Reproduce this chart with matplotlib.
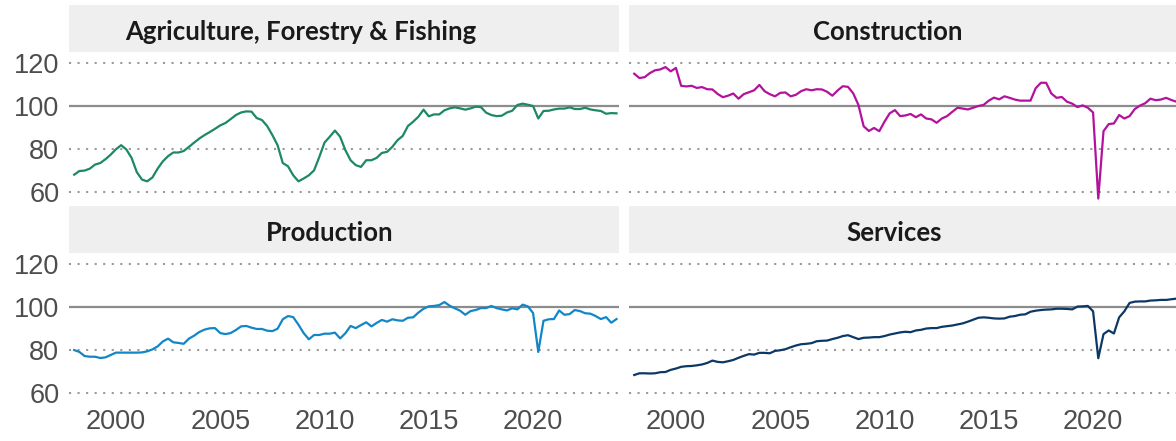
import numpy as np
import matplotlib
matplotlib.use("Agg")
import matplotlib.pyplot as plt

# quarterly index, 1998 Q1 .. 2024 Q1
start_year = 1998

agriculture = [
    68.1, 69.8, 70.0, 70.9, 72.8, 73.5, 75.3, 77.4, 79.9, 81.8,
    79.8, 75.9, 69.3, 65.8, 65.0, 66.8, 70.9, 74.3, 76.7, 78.4,
    78.4, 79.1, 81.0, 83.0, 84.9, 86.5, 87.9, 89.4, 91.0, 92.1,
    93.9, 95.8, 97.0, 97.5, 97.4, 94.4, 93.5, 90.7, 86.5, 81.8,
    73.5, 72.0, 67.8, 65.0, 66.3, 67.8, 70.1, 76.3, 83.0, 85.7,
    88.6, 85.7, 79.5, 74.8, 72.5, 71.7, 74.8, 74.8, 75.9, 78.2,
    78.7, 81.0, 84.1, 86.1, 90.7, 92.7, 95.0, 98.3, 95.2, 96.1,
    96.1, 98.0, 98.9, 99.4, 98.9, 98.3, 98.9, 99.7, 99.5, 96.9,
    95.8, 95.3, 95.5, 97.0, 97.8, 100.5, 101.1, 100.6, 100.0, 94.2,
    97.7, 97.8, 98.4, 98.8, 98.8, 99.4, 98.6, 98.6, 99.2, 98.4,
    98.0, 97.7, 96.4, 96.7, 96.6,
]

construction = [
    115.0, 113.0, 113.4, 115.3, 116.6, 117.0, 118.1, 116.1, 117.7, 109.4,
    109.1, 109.4, 108.4, 108.8, 107.8, 107.7, 105.6, 104.1, 104.8, 105.8,
    103.4, 105.5, 106.4, 107.3, 109.8, 106.9, 105.5, 104.5, 106.1, 106.3,
    104.5, 105.2, 106.9, 107.8, 107.3, 107.8, 107.7, 106.6, 104.8, 107.2,
    109.2, 108.9, 105.9, 100.5, 90.6, 88.4, 89.8, 88.3, 92.7, 96.6,
    98.1, 95.3, 95.6, 96.3, 94.8, 96.1, 94.2, 93.8, 92.2, 94.2,
    95.3, 97.3, 99.2, 98.8, 98.4, 99.2, 100.0, 100.5, 102.5, 103.9,
    103.1, 104.5, 103.8, 103.0, 102.5, 102.5, 102.5, 108.3, 110.8, 110.8,
    105.8, 103.8, 104.2, 102.0, 101.1, 99.5, 100.3, 99.2, 97.0, 57.0,
    88.3, 91.6, 91.9, 95.8, 94.2, 95.3, 98.6, 100.2, 101.3, 103.4,
    102.7, 103.0, 103.8, 102.8, 102.0,
]

production = [
    80.0, 79.1, 77.2, 76.9, 76.9, 76.3, 76.6, 77.7, 78.8, 78.8,
    78.8, 78.8, 78.8, 78.9, 79.4, 80.3, 81.7, 84.0, 85.3, 83.6,
    83.3, 82.9, 85.3, 86.7, 88.4, 89.5, 90.1, 90.2, 87.9, 87.4,
    87.9, 89.3, 91.0, 91.2, 90.4, 89.8, 89.8, 89.0, 88.8, 89.9,
    94.3, 95.8, 95.3, 91.8, 87.9, 85.0, 87.0, 87.0, 87.6, 87.6,
    88.1, 85.4, 87.8, 91.2, 90.2, 91.6, 92.9, 91.0, 92.6, 94.0,
    93.2, 94.3, 93.8, 93.6, 95.0, 95.2, 97.4, 99.2, 100.3, 100.5,
    100.9, 102.3, 100.6, 99.4, 98.3, 96.4, 98.1, 98.6, 99.5, 99.5,
    100.5, 99.5, 98.9, 98.4, 99.4, 98.9, 101.1, 100.3, 97.2, 79.1,
    93.6, 94.3, 94.4, 98.4, 96.4, 96.7, 98.6, 98.1, 97.1, 96.9,
    95.8, 94.4, 95.3, 92.7, 94.4,
]

services = [
    68.4, 69.2, 69.2, 69.1, 69.2, 69.7, 69.8, 70.8, 71.4, 72.2,
    72.5, 72.6, 72.9, 73.3, 74.0, 75.1, 74.5, 74.3, 74.8, 75.4,
    76.4, 77.3, 78.1, 77.9, 78.7, 78.7, 78.5, 79.6, 79.9, 80.4,
    81.3, 82.1, 82.7, 82.9, 83.2, 84.1, 84.3, 84.4, 85.1, 85.7,
    86.5, 86.9, 86.0, 85.1, 85.7, 85.8, 86.0, 86.0, 86.5, 87.2,
    87.7, 88.2, 88.5, 88.3, 89.1, 89.4, 90.0, 90.2, 90.2, 90.8,
    91.1, 91.4, 91.9, 92.4, 93.2, 94.1, 95.0, 95.2, 95.0, 94.7,
    94.6, 94.7, 95.5, 95.8, 96.4, 96.6, 97.8, 98.3, 98.6, 98.8,
    98.9, 99.2, 99.2, 99.1, 98.9, 100.2, 100.3, 100.5, 98.0, 76.2,
    87.4, 89.1, 87.7, 95.2, 98.0, 101.9, 102.5, 102.6, 102.6, 103.0,
    103.1, 103.3, 103.3, 103.6, 103.9,
]

panels = [
    ("Agriculture, Forestry & Fishing", agriculture, "#1b8a62"),
    ("Construction", construction, "#b3129c"),
    ("Production", production, "#1187c8"),
    ("Services", services, "#0c3866"),
]
year_ticks = [2000, 2005, 2010, 2015, 2020]
y_ticks = [60, 80, 100, 120]

W, H = 1176, 441
fig = plt.figure(figsize=(W / 100, H / 100), dpi=100)

def box(x0, y0, x1, y1):
    # pixel box (top-left origin) -> figure fraction rect
    return [x0 / W, 1 - y1 / H, (x1 - x0) / W, (y1 - y0) / H]

cols = [(69, 619), (629, 1179)]
rows = [(5, 52, 205), (206, 253, 406)]
title_x = [301, 888, 330, 894]

for i, (name, vals, color) in enumerate(panels):
    r, c = divmod(i, 2)
    x0, x1 = cols[c]
    s0, s1, p1 = rows[r]

    strip = fig.add_axes(box(x0, s0, x1, s1))
    strip.set_facecolor("#efefef")
    strip.set_xticks([])
    strip.set_yticks([])
    for sp in strip.spines.values():
        sp.set_visible(False)
    strip.text((title_x[i] - x0) / (x1 - x0), 0.42, name, transform=strip.transAxes,
               ha="center", va="center", fontsize=18.5, fontweight="bold",
               family="Lato", color="#1a1a1a")

    ax = fig.add_axes(box(x0, s1, x1, p1))
    x = start_year + np.arange(len(vals)) / 4
    for yv in [60, 80, 120]:
        ax.axhline(yv, color="#9a9a9a", lw=1.5, ls=(0, (1, 3.1)), zorder=1)
    ax.axhline(100, color="#8c8c8c", lw=1.6, zorder=1)
    ax.plot(x, vals, color=color, lw=1.6, zorder=3)

    ax.set_xlim(1997.75, 2024.12)
    ax.set_ylim(54, 125.1)
    ax.set_xticks(year_ticks)
    ax.set_yticks(y_ticks)
    ax.tick_params(length=0, labelsize=19.5, labelcolor="#4d4d4d", pad=7)
    if r == 0:
        ax.set_xticklabels([])
    if c == 1:
        ax.set_yticklabels([])
    for lab in ax.get_xticklabels() + ax.get_yticklabels():
        lab.set_family("Liberation Sans")
    ax.tick_params(axis="x", pad=2)
    for sp in ax.spines.values():
        sp.set_visible(False)

fig.savefig("out.png", dpi=100)
